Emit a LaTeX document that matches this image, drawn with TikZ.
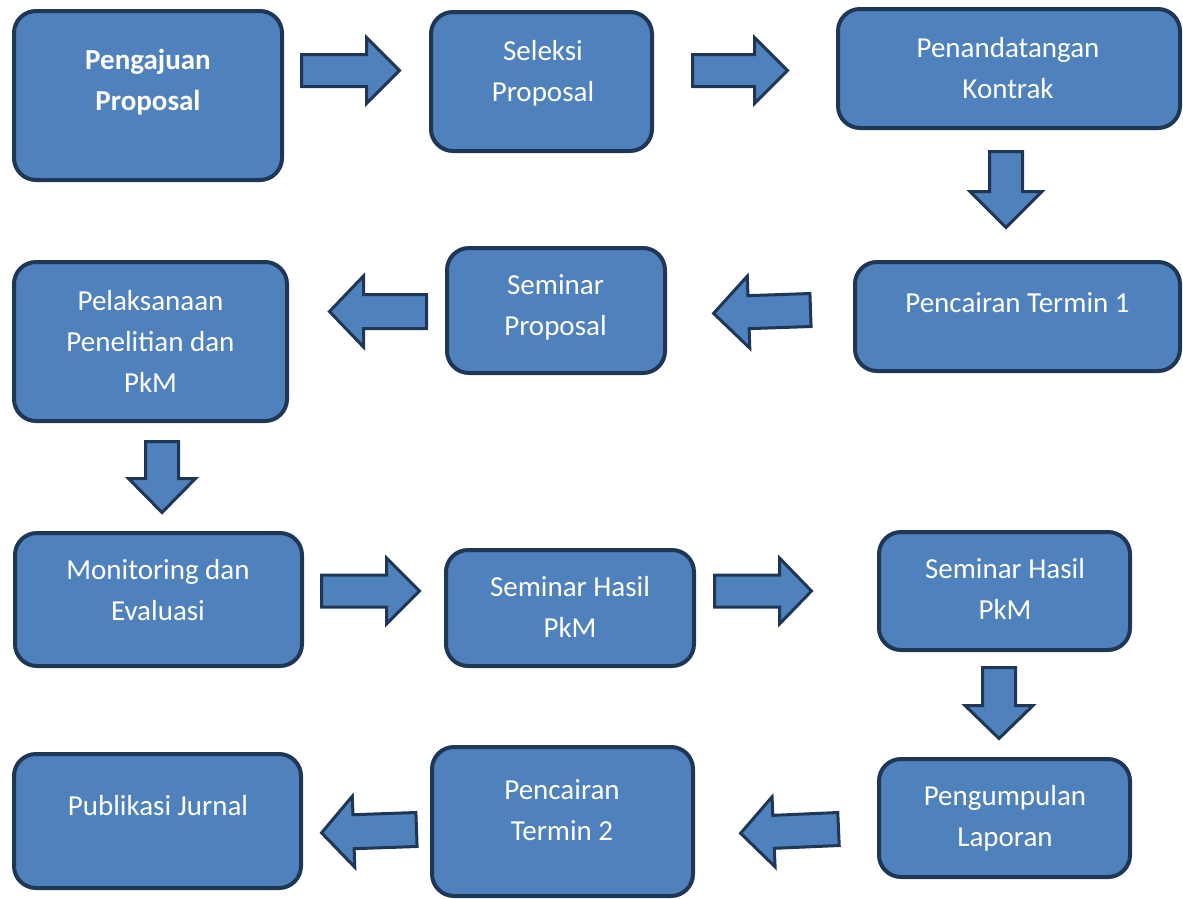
\documentclass[tikz,border=0pt]{standalone}
\usepackage{fontspec}
\setmainfont{Carlito}
\definecolor{boxfill}{HTML}{4F81BD}
\definecolor{boxline}{HTML}{1F3654}
\newcommand{\boxlines}[1]{\begin{tabular}[t]{@{}c@{}}#1\end{tabular}}
\tikzset{
  flowbox/.style={draw=boxline, fill=boxfill, line width=4pt, rounded corners=22pt, inner sep=0pt},
  boxtext/.style={text=white, anchor=base, inner sep=0pt, font=\fontsize{29}{41}\selectfont},
  arrowline/.style={draw=boxline, fill=boxfill, line width=3pt, line join=miter},
  pics/barrow/.style n args={4}{code={
    % #1 length, #2 head length, #3 shaft half width, #4 head half width
    \path[arrowline] (0,-#3) -- ({#1-#2},-#3) -- ({#1-#2},-#4) -- (#1,0)
      -- ({#1-#2},#4) -- ({#1-#2},#3) -- (0,#3) -- cycle;
  }}
}
\begin{document}
\begin{tikzpicture}[x=1pt,y=-1pt]
\useasboundingbox (0,0) rectangle (1183,898);

% boxes
\node[flowbox, minimum width=268pt, minimum height=169pt] (b1) at (148,95.5) {};
\node[flowbox, minimum width=221pt, minimum height=139pt] (b2) at (541.5,81.5) {};
\node[flowbox, minimum width=342pt, minimum height=119pt] (b3) at (1009,68.5) {};
\node[flowbox, minimum width=325pt, minimum height=109pt] (b4) at (1017.5,316.5) {};
\node[flowbox, minimum width=218pt, minimum height=125pt] (b5) at (556,310.5) {};
\node[flowbox, minimum width=273pt, minimum height=159pt] (b6) at (150.5,341.5) {};
\node[flowbox, minimum width=287pt, minimum height=133pt] (b7) at (158.5,599.5) {};
\node[flowbox, minimum width=248pt, minimum height=116pt] (b8) at (570,608) {};
\node[flowbox, minimum width=251pt, minimum height=118pt] (b9) at (1004.5,591) {};
\node[flowbox, minimum width=251pt, minimum height=118pt] (b10) at (1004.5,818) {};
\node[flowbox, minimum width=261pt, minimum height=149pt] (b11) at (562.5,821.5) {};
\node[flowbox, minimum width=287pt, minimum height=134pt] (b12) at (157.5,821) {};

% texts
\node[boxtext, font=\fontsize{29}{41}\selectfont\bfseries] (t1) at (148,69) {\boxlines{Pengajuan\\Proposal}};
\node[boxtext] (t2) at (543,60) {\boxlines{Seleksi\\Proposal}};
\node[boxtext] (t3) at (1008,57) {\boxlines{Penandatangan\\Kontrak}};
\node[boxtext] (t4) at (1017.5,312) {\boxlines{Pencairan Termin 1}};
\node[boxtext] (t5) at (555.5,294) {\boxlines{Seminar\\Proposal}};
\node[boxtext] (t6) at (150.5,310) {\boxlines{Pelaksanaan\\Penelitian dan\\PkM}};
\node[boxtext] (t7) at (158,579) {\boxlines{Monitoring dan\\Evaluasi}};
\node[boxtext] (t8) at (570,596) {\boxlines{Seminar Hasil\\PkM}};
\node[boxtext] (t9) at (1005,578) {\boxlines{Seminar Hasil\\PkM}};
\node[boxtext] (t10) at (1005,805) {\boxlines{Pengumpulan\\Laporan}};
\node[boxtext] (t11) at (562,799) {\boxlines{Pencairan\\Termin 2}};
\node[boxtext] (t12) at (158,815) {\boxlines{Publikasi Jurnal}};

% block arrows (tail positions)
\coordinate (a1) at (301.5,70.5);
\coordinate (a2) at (692.5,70.5);
\coordinate (a3) at (1006,151.5);
\coordinate (a4) at (810.5,310);
\coordinate (a5) at (426.5,311.5);
\coordinate (a6) at (162,441.5);
\coordinate (a7) at (321.5,591);
\coordinate (a8) at (714.5,591);
\coordinate (a9) at (999,667.5);
\coordinate (a10) at (838.5,829);
\coordinate (a11) at (416.5,829.5);

\pic at (a1) {barrow={98}{33}{16}{33}};
\pic at (a2) {barrow={95}{33}{16}{33}};
\pic[rotate=-90] at (a3) {barrow={76}{36}{16.5}{36}};
\pic[rotate=182] at (a4) {barrow={97}{35}{16.5}{36}};
\pic[rotate=180] at (a5) {barrow={97}{34}{17}{35.5}};
\pic[rotate=-90] at (a6) {barrow={71}{34}{16.5}{33.5}};
\pic at (a7) {barrow={98}{33}{16}{33}};
\pic at (a8) {barrow={97}{32}{16}{33}};
\pic[rotate=-90] at (a9) {barrow={71}{33}{16.5}{34}};
\pic[rotate=182.5] at (a10) {barrow={98}{33}{16.5}{35}};
\pic[rotate=182] at (a11) {barrow={95}{32}{17}{35.5}};
\end{tikzpicture}
\end{document}
